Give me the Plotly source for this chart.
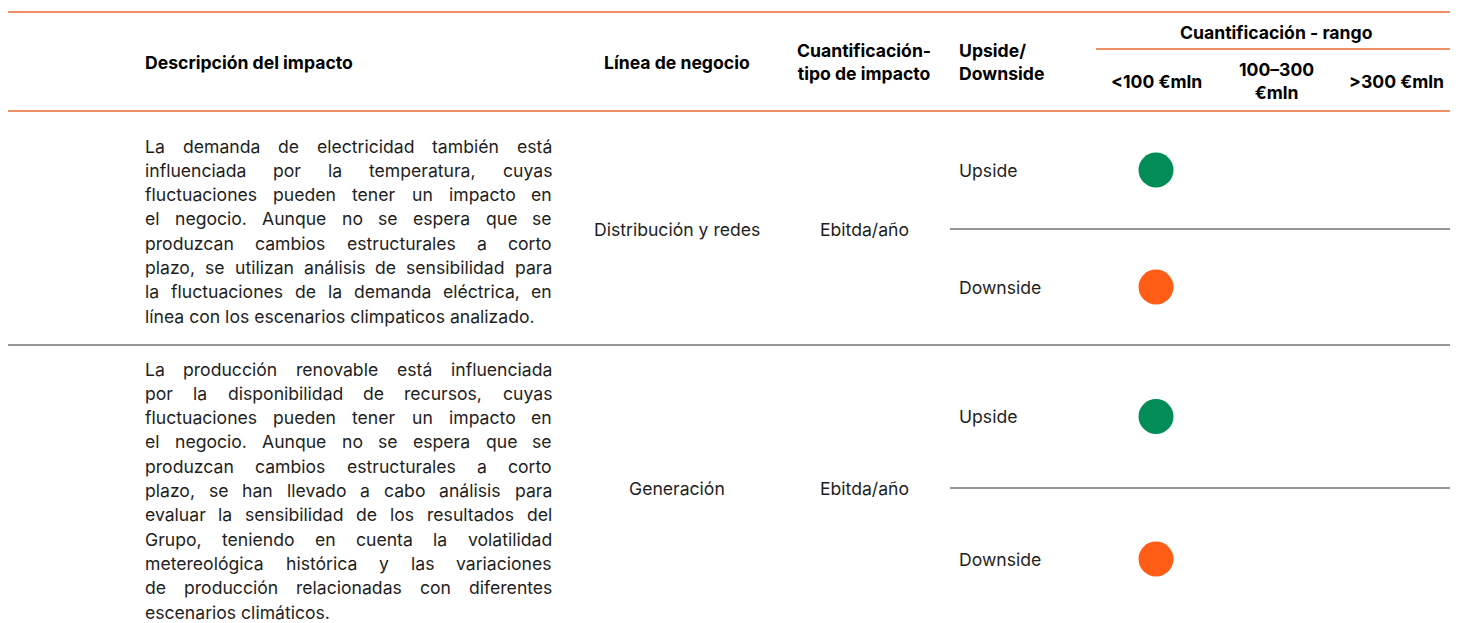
import glob
import plotly.graph_objects as go

W, H = 1458, 623
OFF = 8  # default page margin of the html body
FONT = "Inter"
BODY_SIZE = 17.6
HEAD_SIZE = 17.6
BODY_COLOR = "#1e1e1e"
ORANGE_LINE = "#EC6B36"
DARK_LINE = "#2e2e2e"

# ---------------- data ----------------
header_desc = "Descripción del impacto"
header_line = "Línea de negocio"
header_type = "Cuantificación-<br>tipo de impacto"
header_dir = "Upside/<br>Downside"
header_range = "Cuantificación - rango"
range_cols = ["<100 €mln", "100–300<br>€mln", ">300 €mln"]

desc_1 = [
    "La demanda de electricidad también está",
    "influenciada por la temperatura, cuyas",
    "fluctuaciones pueden tener un impacto en",
    "el negocio. Aunque no se espera que se",
    "produzcan cambios estructurales a corto",
    "plazo, se utilizan análisis de sensibilidad  para",
    "la fluctuaciones de la demanda eléctrica, en",
    "línea con los escenarios climpaticos analizado.",
]
desc_2 = [
    "La producción renovable está influenciada",
    "por la disponibilidad de recursos, cuyas",
    "fluctuaciones pueden tener un impacto en",
    "el negocio. Aunque no se espera que se",
    "produzcan cambios estructurales a corto",
    "plazo, se han llevado a cabo análisis para",
    "evaluar la sensibilidad de los resultados del",
    "Grupo, teniendo en cuenta la volatilidad",
    "metereológica histórica y las variaciones",
    "de producción relacionadas con diferentes",
    "escenarios climáticos.",
]
descriptions = [desc_1, desc_2]
business_lines = ["Distribución y redes", "Generación"]
impact_types = ["Ebitda/año", "Ebitda/año"]
directions = ["Upside", "Downside"]
# range column index of the dot for each (row, direction)
dot_range = [[0, 0], [0, 0]]
dot_colors = {"Upside": "#028C58", "Downside": "#FF5C16"}

# ---------------- layout geometry (page pixels) ----------------
top_y, head_bot = 12, 111
row_bounds = [(111, 345), (345, 630)]
row_splits = [229, 488]
para_top = [146, 369]
x_desc_left, x_desc_right = 144, 551
x_line_c, x_type_c, x_dir_l = 677, 864, 958
range_left, range_right = 1096, 1456
col_w = (range_right - range_left) / len(range_cols)
col_c = [range_left + col_w * (i + 0.5) for i in range(len(range_cols))]
line_h = 24.3

# optional width measurement for justified text
measure = None
try:
    from PIL import ImageFont
    cands = [f for f in glob.glob("/usr/share/fonts/**/*.*tf", recursive=True)
             if "Inter" in f.split("/")[-1] and ("Regular" in f or f.endswith("Inter.ttf") or "Inter[" in f)]
    cands.sort(key=len)
    if cands:
        pf = ImageFont.truetype(cands[0], BODY_SIZE)
        measure = lambda s: pf.getlength(s)
except Exception:
    measure = None

fig = go.Figure()
shapes = []
ann = []


def hline(y, x0, x1, color, w=1.5):
    shapes.append(dict(type="line", x0=x0, x1=x1, y0=y, y1=y, xref="x", yref="y",
                       line=dict(color=color, width=w)))


def text(x, y, s, size=BODY_SIZE, bold=False, xanchor="center", align="center", color=BODY_COLOR):
    ann.append(dict(x=x, y=y, xref="x", yref="y", text=s, showarrow=False,
                    xanchor=xanchor, yanchor="middle", align=align, borderpad=0,
                    font=dict(family=FONT, size=size, color=color, weight=700 if bold else 400)))


# lines
hline(top_y, 0, range_right, ORANGE_LINE)
hline(head_bot, 0, range_right, ORANGE_LINE)
hline(49, range_left, range_right, ORANGE_LINE)
hline(row_bounds[0][1], 0, range_right, DARK_LINE, 1.2)
for s in row_splits:
    hline(s, 950, range_right, DARK_LINE, 1.2)

# header
HC = "#000"
text(x_desc_left, 62, header_desc, HEAD_SIZE, True, "left", "left", HC)
text(x_line_c, 62, header_line, HEAD_SIZE, True, color=HC)
text(x_type_c, 62, header_type, HEAD_SIZE, True, color=HC)
text(x_dir_l, 62, header_dir, HEAD_SIZE, True, "left", "left", HC)
text((range_left + range_right) / 2, 32, header_range, HEAD_SIZE, True, color=HC)
for i, c in enumerate(range_cols):
    text(col_c[i], 81, c, HEAD_SIZE, True, color=HC)

# rows
dot_x, dot_y, dot_c = [], [], []
for r, (y0, y1) in enumerate(row_bounds):
    lines = descriptions[r]
    for k, ln in enumerate(lines):
        y = para_top[r] + k * line_h
        last = k == len(lines) - 1
        words = ln.split()
        if measure is not None and not last and len(words) > 1:
            widths = [measure(w) for w in words]
            gap = (x_desc_right - x_desc_left - sum(widths)) / (len(words) - 1)
            x = x_desc_left
            for w, wd in zip(words, widths):
                text(x, y, w, xanchor="left", align="left")
                x += wd + gap
        else:
            text(x_desc_left, y, ln, xanchor="left", align="left")
    split = row_splits[r]
    text(x_line_c, split, business_lines[r])
    text(x_type_c, split, impact_types[r])
    subs = [(y0, split), (split, y1)]
    for d, name in enumerate(directions):
        cy = (subs[d][0] + subs[d][1]) / 2
        text(x_dir_l, cy, name, xanchor="left", align="left")
        dot_x.append(col_c[dot_range[r][d]])
        dot_y.append(cy)
        dot_c.append(dot_colors[name])

fig.add_trace(go.Scatter(x=dot_x, y=dot_y, mode="markers",
                         marker=dict(size=35, color=dot_c, line=dict(width=0)),
                         hoverinfo="skip", showlegend=False))

fig.update_layout(
    width=W, height=H, margin=dict(l=0, r=0, t=0, b=0),
    paper_bgcolor="white", plot_bgcolor="white",
    xaxis=dict(range=[OFF, W + OFF], visible=False, fixedrange=True),
    yaxis=dict(range=[H + OFF, OFF], visible=False, fixedrange=True),
    shapes=shapes, annotations=ann, showlegend=False,
)
fig.write_html("out.html")
